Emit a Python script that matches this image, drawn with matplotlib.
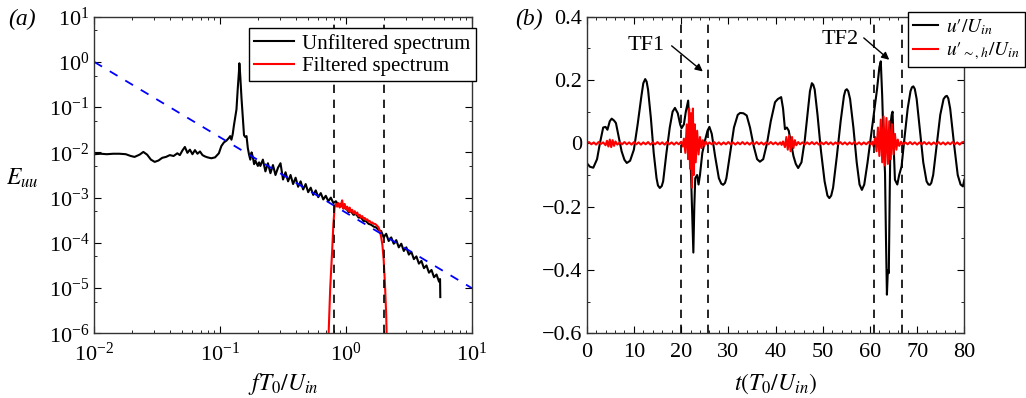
import numpy as np
import matplotlib.pyplot as plt
from matplotlib.ticker import LogLocator, MultipleLocator, FixedLocator, FixedFormatter, NullFormatter

plt.rcParams['font.family'] = ['Liberation Serif', 'DejaVu Serif']
plt.rcParams['mathtext.fontset'] = 'stix'

# (a) spectrum, values read as log10
spec_logf = [-2.00, -1.95, -1.90, -1.85, -1.80, -1.75, -1.71, -1.68, -1.64, -1.61,
             -1.58, -1.55, -1.52, -1.49, -1.46, -1.43, -1.40, -1.37, -1.34, -1.32,
             -1.30, -1.28, -1.26, -1.24, -1.22, -1.20, -1.18, -1.16, -1.14, -1.12,
             -1.10, -1.07, -1.04, -1.01, -0.99, -0.97, -0.95, -0.93, -0.92, -0.91,
             -0.90, -0.89, -0.88, -0.87, -0.86, -0.85, -0.847, -0.84, -0.83, -0.82,
             -0.81, -0.80, -0.79, -0.78, -0.77, -0.76, -0.75, -0.74, -0.73, -0.72,
             -0.71, -0.70, -0.69,
             -0.68, -0.66, -0.64, -0.62, -0.60, -0.58, -0.56, -0.54, -0.52, -0.50,
             -0.48, -0.46, -0.44, -0.42, -0.40, -0.38, -0.36, -0.34, -0.32, -0.30,
             -0.28, -0.26, -0.24, -0.22, -0.20, -0.18, -0.16, -0.14, -0.12, -0.10,
             -0.08, -0.06, -0.04, -0.02, 0.00, 0.02, 0.04, 0.06, 0.08, 0.10,
             0.12, 0.14, 0.16, 0.18, 0.20, 0.22, 0.24, 0.26, 0.28, 0.30,
             0.32, 0.34, 0.36, 0.38, 0.40, 0.42, 0.44, 0.46, 0.48, 0.50,
             0.52, 0.54, 0.56, 0.58, 0.60, 0.62, 0.64, 0.66, 0.68, 0.70,
             0.72, 0.74, 0.748, 0.75]
spec_logE = [-2.04, -2.03, -2.04, -2.03, -2.03, -2.04, -2.08, -2.10, -2.05, -1.99,
             -2.05, -2.16, -2.21, -2.18, -2.12, -2.10, -2.06, -2.08, -2.02, -2.06,
             -1.96, -1.88, -2.01, -1.94, -2.04, -1.95, -2.03, -1.98, -2.06, -2.09,
             -2.11, -2.13, -2.11, -2.02, -1.86, -1.78, -1.74, -1.68, -1.64, -1.72,
             -1.60, -1.40, -1.22, -1.05, -0.60, -0.20, -0.03, -0.30, -0.80, -1.20,
             -1.62, -1.66, -1.64, -1.90, -2.05, -2.16, -2.00, -2.10, -2.26, -2.18,
             -2.24, -2.30, -2.22,
             -2.30, -2.16, -2.42, -2.24, -2.46, -2.28, -2.50, -2.34, -2.24, -2.60,
             -2.44, -2.64, -2.50, -2.70, -2.56, -2.76, -2.64, -2.82, -2.70, -2.88,
             -2.78, -2.94, -2.84, -2.99, -2.90, -3.04, -2.96, -3.08, -3.00, -3.12,
             -3.08, -3.16, -3.14, -3.24, -3.22, -3.32, -3.30, -3.38, -3.36, -3.44,
             -3.44, -3.52, -3.52, -3.58, -3.60, -3.64, -3.66, -3.72, -3.74, -3.88,
             -3.80, -3.96, -3.88, -4.02, -3.94, -4.10, -4.02, -4.18, -4.10, -4.26,
             -4.20, -4.36, -4.30, -4.46, -4.40, -4.56, -4.50, -4.66, -4.60, -4.76,
             -4.70, -4.86, -4.80, -5.20]

filt_logf = [-0.14, -0.125, -0.11, -0.10, -0.09,
             -0.08, -0.07, -0.06, -0.05, -0.04, -0.03, -0.02, -0.01, 0.00, 0.01,
             0.02, 0.03, 0.04, 0.05, 0.06, 0.07, 0.08, 0.09, 0.10, 0.11,
             0.12, 0.13, 0.14, 0.15, 0.16, 0.17, 0.18, 0.19, 0.20, 0.21,
             0.22, 0.23, 0.24, 0.25, 0.26, 0.27, 0.28, 0.29, 0.30, 0.31,
             0.32, 0.325]
filt_logE = [-6.2, -5.0, -4.2, -3.6, -3.22,
             -3.14, -3.20, -3.12, -3.22, -3.16, -3.06, -3.24, -3.14, -3.26, -3.20,
             -3.30, -3.22, -3.31, -3.27, -3.35, -3.30, -3.37, -3.33, -3.41, -3.38,
             -3.44, -3.41, -3.47, -3.45, -3.50, -3.48, -3.53, -3.52, -3.56, -3.55,
             -3.58, -3.58, -3.60, -3.63, -3.66, -3.75, -3.87, -4.05, -4.38, -4.90,
             -5.60, -6.2]

slope_f = [1e-2, 1e1]
slope_E = [1e0, 1e-5]
band_f = [0.8, 2.0]

# (b) time series
t_u = [0.0, 0.7, 1.4, 2.2, 2.8, 3.5, 4.0, 4.4, 4.9, 5.3,
       5.8, 6.2, 6.8, 7.4, 8.0, 8.5, 9.2, 10.0, 10.8, 11.6,
       12.0, 12.4, 12.7, 13.0, 13.6, 14.2, 14.8, 15.1, 15.5, 15.9,
       16.2, 16.9, 17.6, 18.2, 18.7, 19.3, 19.8, 20.1, 20.6, 21.0,
       21.5, 21.8, 22.1, 22.3, 22.6, 22.8, 23.0, 23.4, 23.7, 24.0,
       24.5, 25.1, 25.6, 26.0, 26.5, 27.2, 28.0, 28.5, 28.9, 29.3,
       29.6, 30.4, 31.2, 32.0, 32.5, 33.2, 33.9, 34.6, 35.4, 36.1,
       36.7, 37.4, 38.2, 39.0, 39.9, 40.5, 41.2, 41.6, 42.0, 42.4,
       42.8, 43.3, 43.8, 44.3, 44.8, 45.5, 46.2, 46.9, 47.3, 47.7,
       48.0, 48.3, 48.9, 49.6, 50.4, 51.0, 51.4, 51.8, 52.2, 53.0,
       53.8, 54.5, 54.8, 55.1, 55.4, 55.8, 56.5, 57.2, 57.8, 58.3,
       58.8, 59.5, 60.2, 60.9, 61.5, 62.0, 62.3, 62.6, 62.9, 63.2,
       63.4, 63.6, 63.8, 64.0, 64.2, 64.4, 64.6, 64.8, 65.0, 65.3,
       65.8, 66.2, 66.7, 67.2, 68.0, 68.6, 68.9, 69.2, 69.5, 69.9,
       70.6, 71.3, 72.0, 72.4, 72.7, 73.0, 73.4, 74.1, 74.9, 75.6,
       76.0, 76.3, 76.6, 77.0, 77.8, 78.6, 79.2, 79.7, 80.0]
u = [-0.062, -0.074, -0.077, -0.05, 0.0, 0.050, 0.052, 0.043, 0.07, 0.078,
     0.072, 0.064, 0.02, -0.025, -0.052, -0.062, -0.055, -0.02, 0.06, 0.15,
     0.19, 0.203, 0.195, 0.17, 0.08, -0.03, -0.11, -0.133, -0.141, -0.135,
     -0.12, -0.03, 0.05, 0.10, 0.112, 0.095, 0.06, 0.048, 0.06, 0.10,
     0.135, 0.05, -0.10, -0.20, -0.345, -0.20, -0.11, -0.10, -0.13, -0.10,
     -0.03, 0.011, 0.04, 0.052, 0.03, -0.04, -0.11, -0.127, -0.131, -0.125,
     -0.11, -0.03, 0.05, 0.09, 0.096, 0.095, 0.088, 0.05, -0.01, -0.05,
     -0.058, -0.05, 0.0, 0.07, 0.13, 0.14, 0.146, 0.11, 0.045, 0.05,
     0.04, 0.0, -0.04, -0.065, -0.078, -0.06, 0.01, 0.11, 0.165, 0.19,
     0.185, 0.17, 0.09, -0.02, -0.12, -0.165, -0.173, -0.165, -0.14, -0.04,
     0.07, 0.15, 0.167, 0.171, 0.165, 0.14, 0.05, -0.06, -0.13, -0.147,
     -0.13, -0.06, 0.02, 0.10, 0.17, 0.24, 0.259, 0.15, 0.0, -0.094,
     -0.30, -0.478, -0.40, -0.41, -0.15, 0.064, 0.09, 0.10, 0.0, -0.115,
     -0.13, -0.10, -0.073, 0.0, 0.11, 0.165, 0.177, 0.18, 0.172, 0.14,
     0.04, -0.06, -0.12, -0.13, -0.131, -0.125, -0.10, -0.01, 0.09, 0.14,
     0.148, 0.15, 0.142, 0.11, 0.0, -0.10, -0.13, -0.136, -0.115]

t_h = [0.0, 0.5, 1.0, 1.5, 2.0, 2.5, 3.0, 3.5, 4.0, 4.3, 4.6, 4.9, 5.2, 5.5, 5.8, 6.1,
       6.5, 7.0, 7.5, 8.0, 8.5, 9.0, 9.5, 10.0, 10.5, 11.0, 11.5, 12.0, 12.5, 13.0,
       13.5, 14.0, 14.5, 15.0, 15.5, 16.0, 16.5, 17.0, 17.5, 18.0, 18.5, 19.0, 19.5,
       20.0, 20.3, 20.6, 20.9, 21.2, 21.5, 21.7, 21.9, 22.1, 22.3, 22.5, 22.7, 22.9,
       23.1, 23.4, 23.7, 24.0, 24.3, 24.6, 24.9, 25.2, 25.6, 26.0, 26.5, 27.0, 27.5,
       28.0, 28.5, 29.0, 29.5, 30.0, 30.5, 31.0, 31.5, 32.0, 32.5, 33.0, 33.5, 34.0,
       34.5, 35.0, 35.5, 36.0, 36.5, 37.0, 37.5, 38.0, 38.5, 39.0, 39.5, 40.0, 40.5,
       41.0, 41.3, 41.6, 42.0, 42.3, 42.6, 42.9, 43.2, 43.5, 43.8, 44.1, 44.4, 44.8,
       45.2, 45.7, 46.2, 46.7, 47.2, 47.7, 48.2, 48.7, 49.2, 49.7, 50.2, 50.7, 51.2,
       51.7, 52.2, 52.7, 53.2, 53.7, 54.2, 54.7, 55.2, 55.7, 56.2, 56.7, 57.2, 57.7,
       58.2, 58.7, 59.2, 59.7, 60.2, 60.5, 60.8, 61.1, 61.4, 61.7, 62.0, 62.3, 62.6,
       62.9, 63.2, 63.5, 63.8, 64.1, 64.4, 64.7, 65.0, 65.3, 65.6, 65.9, 66.2, 66.6,
       67.0, 67.5, 68.0, 68.5, 69.0, 69.5, 70.0, 70.5, 71.0, 71.5, 72.0, 72.5, 73.0,
       73.5, 74.0, 74.5, 75.0, 75.5, 76.0, 76.5, 77.0, 77.5, 78.0, 78.5, 79.0, 79.5,
       80.0]
u_h = [0.0, 0.004, -0.003, 0.003, -0.004, 0.004, -0.002, 0.003, -0.006, 0.008, -0.01,
       0.012, -0.012, 0.01, -0.008, 0.006,
       -0.004, 0.003, -0.003, 0.004, -0.003, 0.003, -0.004, 0.004, -0.003, 0.003, -0.004,
       0.003, -0.003, 0.004,
       -0.004, 0.003, -0.003, 0.004, -0.003, 0.003, -0.004, 0.004, -0.003, 0.003, -0.004,
       0.003, -0.003,
       0.005, -0.01, 0.015, -0.03, 0.06, -0.05, 0.11, -0.08, 0.095, -0.14, 0.11, -0.10, 0.06,
       -0.06, 0.04, -0.035, 0.02, -0.015, 0.01, -0.008, 0.006, -0.004, 0.003, -0.003, 0.004,
       -0.003,
       0.003, -0.004, 0.003, -0.003, 0.004, -0.003, 0.003, -0.004, 0.003, -0.003, 0.004,
       -0.003, 0.003,
       -0.004, 0.003, -0.003, 0.004, -0.003, 0.003, -0.004, 0.003, -0.003, 0.004, -0.003,
       0.003, -0.004,
       0.003, -0.005, 0.006, -0.012, 0.02, -0.02, 0.025, -0.025, 0.02, -0.015, 0.01, -0.006,
       0.004,
       -0.003, 0.003, -0.004, 0.003, -0.003, 0.004, -0.003, 0.003, -0.004, 0.003, -0.003,
       0.004, -0.003,
       0.003, -0.004, 0.003, -0.003, 0.004, -0.003, 0.003, -0.004, 0.003, -0.003, 0.004,
       -0.003, 0.003,
       -0.004, 0.003, -0.003, 0.004, -0.003, 0.005, -0.01, 0.02, -0.025, 0.05, -0.04, 0.075,
       -0.06,
       0.085, -0.07, 0.08, -0.065, 0.07, -0.05, 0.06, -0.035, 0.03, -0.02, 0.012, -0.008,
       0.005,
       -0.004, 0.003, -0.003, 0.004, -0.003, 0.003, -0.004, 0.003, -0.003, 0.004, -0.003,
       0.003, -0.004,
       0.003, -0.003, 0.004, -0.003, 0.003, -0.004, 0.003, -0.003, 0.004, -0.003, 0.003,
       -0.004, 0.003,
       0.005]
band_t = [20.0, 25.8, 60.9, 66.7]

fig = plt.figure(figsize=(10.26, 3.98), dpi=100)
ax1 = fig.add_axes([0.0919, 0.1626, 0.3679, 0.7954])
ax2 = fig.add_axes([0.5718, 0.1626, 0.3681, 0.7954])

ax1.plot(10 ** np.array(spec_logf), 10 ** np.array(spec_logE), color='black', lw=1.5,
         label='Unfiltered spectrum')
ax1.plot(10 ** np.array(filt_logf), 10 ** np.array(filt_logE), color='red', lw=1.5,
         label='Filtered spectrum')
ax1.plot(slope_f, slope_E, color='blue', lw=1.3, ls=(0, (5, 5)))
for f in band_f:
    ax1.axvline(f, color='black', lw=1.2, ls=(0, (5, 4)))
ax1.set_xscale('log')
ax1.set_yscale('log')
ax1.set_xlim(1e-2, 1e1)
ax1.set_ylim(1e-6, 1e1)
ax1.yaxis.set_major_locator(LogLocator(base=10, numticks=20))
ax1.yaxis.set_minor_locator(LogLocator(base=10, subs=[5], numticks=20))
ax1.yaxis.set_minor_formatter(NullFormatter())
ax1.xaxis.set_minor_locator(LogLocator(base=10, subs=np.arange(2, 10), numticks=20))
ax1.xaxis.set_minor_formatter(NullFormatter())
ax1.set_xlabel(r'$fT_0/U_{in}$', fontsize=17)
ax1.xaxis.set_label_coords(0.5, -0.12)
ax1.set_ylabel(r'$E_{uu}$', fontsize=17, rotation=0, va='center', ha='center')
ax1.yaxis.set_label_coords(-0.19, 0.49)
ax1.legend(loc='upper right', bbox_to_anchor=(1.01, 0.963), fontsize=15, frameon=True,
           fancybox=False, edgecolor='black', framealpha=1, borderpad=0.25,
           handlelength=1.9, handletextpad=0.4, labelspacing=0.15, borderaxespad=0)

ax2.plot(t_u, u, color='black', lw=1.5, label='$u\u2032/U_{in}$')
ax2.plot(t_h, u_h, color='red', lw=1.5, label='$u\u2032_{\\sim,h}/U_{in}$')
for t in band_t:
    ax2.axvline(t, color='black', lw=1.2, ls=(0, (5, 4)))
ax2.set_xlim(0, 80)
ax2.set_ylim(-0.6, 0.4)
ax2.xaxis.set_major_locator(MultipleLocator(10))
ax2.xaxis.set_minor_locator(MultipleLocator(2))
ax2.yaxis.set_major_locator(FixedLocator([-0.6, -0.4, -0.2, 0, 0.2, 0.4]))
ax2.yaxis.set_major_formatter(FixedFormatter(['\u22120.6', '\u22120.4', '\u22120.2', '0', '0.2', '0.4']))
ax2.yaxis.set_minor_locator(MultipleLocator(0.1))
ax2.set_xlabel(r'$t(T_0/U_{in})$', fontsize=17)
ax2.xaxis.set_label_coords(0.5, -0.12)
ax2.text(12.7, 0.31, 'TF1', fontsize=16, ha='center', va='center')
ax2.annotate('', xy=(24.6, 0.227), xytext=(18.0, 0.308),
             arrowprops=dict(arrowstyle='-|>', color='black', lw=1.0, shrinkA=0, shrinkB=0,
                             mutation_scale=11))
ax2.text(53.7, 0.327, 'TF2', fontsize=16, ha='center', va='center')
ax2.annotate('', xy=(64.1, 0.264), xytext=(58.7, 0.333),
             arrowprops=dict(arrowstyle='-|>', color='black', lw=1.0, shrinkA=0, shrinkB=0,
                             mutation_scale=11))
ax2.legend(loc='upper left', bbox_to_anchor=(0.851, 1.015), fontsize=14, frameon=True,
           fancybox=False, edgecolor='black', framealpha=1, borderpad=0.25,
           handlelength=1.3, handletextpad=0.4, labelspacing=0.2, borderaxespad=0)

for ax in (ax1, ax2):
    ax.tick_params(which='both', direction='in', top=True, right=True, labelsize=16)
    ax.tick_params(which='major', length=5)
    ax.tick_params(which='minor', length=2.5)
    ax.tick_params(axis='x', pad=7)
    for s in ax.spines.values():
        s.set_linewidth(1.0)
        s.set_color('#333333')

fig.text(0.008, 0.952, '(a)', fontsize=17, style='italic', va='center')
fig.text(0.502, 0.952, '(b)', fontsize=17, style='italic', va='center')

fig.savefig('out.png', dpi=100)
